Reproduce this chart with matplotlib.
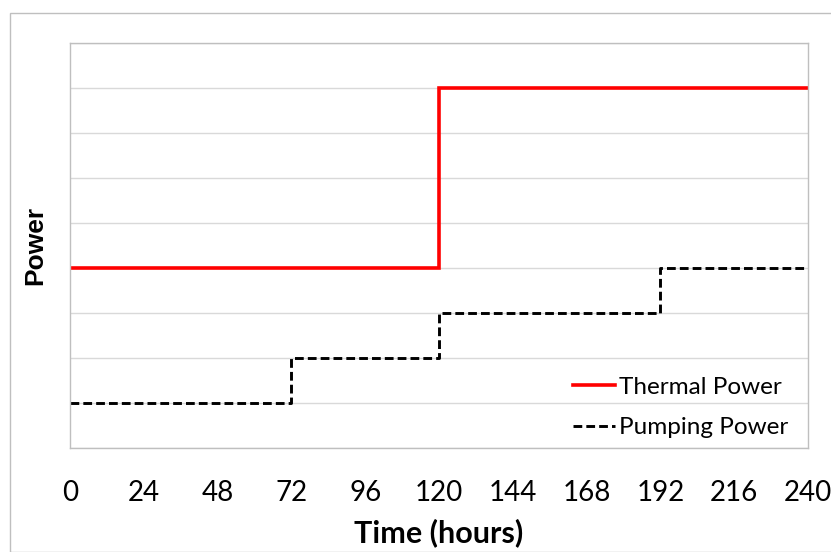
import matplotlib
matplotlib.use("Agg")
import matplotlib.pyplot as plt
from matplotlib.patches import Rectangle

# Data
thermal_time = [0, 120, 240]
thermal_power = [4, 8, 8]
pump_time = [0, 72, 120, 192, 240]
pump_power = [1, 2, 3, 4, 4]
x_ticks = [0, 24, 48, 72, 96, 120, 144, 168, 192, 216, 240]

W, H = 831, 552
fig = plt.figure(figsize=(W / 100, H / 100), dpi=100)

# outer chart border
fig.patches.append(Rectangle((10 / W, 0), 1.0, 1 - 13 / H, transform=fig.transFigure,
                             fill=False, edgecolor="#BFBFBF", linewidth=1.0))

left, right, top, bottom = 70, 808, 43, 448
ax = fig.add_axes([left / W, 1 - bottom / H, (right - left) / W, (bottom - top) / H])

ax.step(thermal_time, thermal_power, where="post", color="#FF0000", linewidth=2.6,
        label="Thermal Power", solid_joinstyle="miter")
ax.step(pump_time, pump_power, where="post", color="black", linewidth=2.1,
        dashes=(3.0, 1.4), label="Pumping Power")

ax.set_xlim(0, 240)
ax.set_ylim(0, 9)
ax.set_xticks(x_ticks)
ax.set_yticks(range(0, 10))
ax.set_yticklabels([])
ax.tick_params(axis="both", length=0)
ax.tick_params(axis="x", pad=23, labelsize=20, labelcolor="black")
for lab in ax.get_xticklabels():
    lab.set_family(["Lato", "DejaVu Sans"])
ax.grid(axis="y", color="#D9D9D9", linewidth=1.0)
ax.set_axisbelow(True)
for s in ax.spines.values():
    s.set_color("#BFBFBF")
    s.set_linewidth(1.0)

ax.set_xlabel("Time (hours)", fontsize=22, fontweight="bold", family=["Lato", "DejaVu Sans"],
              labelpad=9)
ax.set_ylabel("Power", fontsize=19, fontweight="bold", family=["Liberation Sans", "DejaVu Sans"],
              labelpad=13)

leg = ax.legend(loc="lower right", bbox_to_anchor=(0.987, 0.0), frameon=False,
                prop={"family": ["Lato", "DejaVu Sans"], "size": 17.5},
                handlelength=1.7, handletextpad=0.2, labelspacing=0.8,
                borderaxespad=0.0)

fig.savefig("out.png", dpi=100)
